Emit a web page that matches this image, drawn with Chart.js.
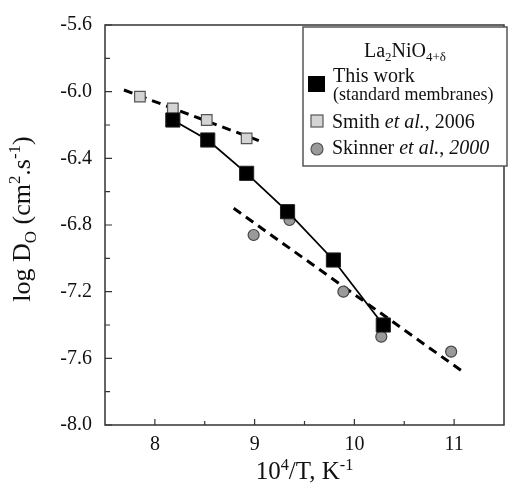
<!DOCTYPE html>
<html>
<head>
<meta charset="utf-8">
<script src="https://cdn.jsdelivr.net/npm/chart.js@4/dist/chart.umd.min.js"></script>
<style>
  body { margin: 0; background: #fff; }
  #wrap { width: 515px; height: 490px; position: relative; }
</style>
</head>
<body>
<div id="wrap"><canvas id="diffChart"></canvas></div>
<script>
// values (x = 10^4/T, y = log D_O)
const thisWorkX = [8.18, 8.53, 8.92, 9.33, 9.79, 10.29];
const thisWorkY = [-6.17, -6.29, -6.49, -6.72, -7.01, -7.40];
const smithX = [7.85, 8.18, 8.52, 8.92];
const smithY = [-6.03, -6.10, -6.17, -6.28];
const skinnerX = [8.99, 9.35, 9.89, 10.27, 10.97];
const skinnerY = [-6.86, -6.77, -7.20, -7.47, -7.56];
// dashed fit lines (end points)
const smithFitX = [7.69, 9.07];
const smithFitY = [-5.99, -6.30];
const skinnerFitX = [8.79, 11.11];
const skinnerFitY = [-6.70, -7.69];
// axis ticks
const xTicks = [8, 9, 10, 11];
const xMinor = [8.5, 9.5, 10.5];
const yTicks = [-8.0, -7.6, -7.2, -6.8, -6.4, -6.0, -5.6];
const yMinor = [-7.8, -7.4, -7.0, -6.6, -6.2, -5.8];

const serif = "'Liberation Serif', 'DejaVu Serif', serif";
Chart.defaults.font.family = serif;
Chart.defaults.color = '#111';

const pts = (xs, ys) => xs.map((x, i) => ({ x: x, y: ys[i] }));

// text with sub/superscripts and italics, drawn left to right
function drawRich(ctx, parts, x, y, size, align) {
  const fonts = parts.map(p => {
    const s = (p.sub || p.sup) ? size * 0.65 : size;
    return (p.italic ? 'italic ' : '') + s + 'px ' + serif;
  });
  const widths = parts.map((p, i) => { ctx.font = fonts[i]; return ctx.measureText(p.t).width; });
  let cx = align === 'center' ? x - widths.reduce((a, b) => a + b, 0) / 2 : x;
  parts.forEach((p, i) => {
    ctx.font = fonts[i];
    const dy = p.sub ? size * 0.22 : p.sup ? -size * 0.38 : 0;
    ctx.fillText(p.t, cx, y + dy);
    cx += widths[i];
  });
}

const decor = {
  id: 'decor',
  afterDraw(chart) {
    const { ctx, chartArea: a, scales: { x, y } } = chart;
    ctx.save();
    // frame
    ctx.strokeStyle = '#333';
    ctx.lineWidth = 1.5;
    ctx.strokeRect(a.left, a.top, a.right - a.left, a.bottom - a.top);
    // inward ticks
    ctx.lineWidth = 1.2;
    ctx.beginPath();
    xTicks.forEach(v => { const p = x.getPixelForValue(v); ctx.moveTo(p, a.bottom); ctx.lineTo(p, a.bottom - 6); });
    xMinor.forEach(v => { const p = x.getPixelForValue(v); ctx.moveTo(p, a.bottom); ctx.lineTo(p, a.bottom - 4); });
    yTicks.forEach(v => { const p = y.getPixelForValue(v); ctx.moveTo(a.left, p); ctx.lineTo(a.left + 7, p); });
    yMinor.forEach(v => { const p = y.getPixelForValue(v); ctx.moveTo(a.left, p); ctx.lineTo(a.left + 5, p); });
    ctx.stroke();

    ctx.fillStyle = '#111';
    ctx.textBaseline = 'alphabetic';
    // x title
    drawRich(ctx, [{ t: '10' }, { t: '4', sup: true }, { t: '/T, K' }, { t: '-1', sup: true }],
      (a.left + a.right) / 2, 479, 25, 'center');
    // y title
    ctx.save();
    ctx.translate(30, 219);
    ctx.rotate(-Math.PI / 2);
    drawRich(ctx, [{ t: 'log D' }, { t: 'O', sub: true }, { t: ' (cm' }, { t: '2', sup: true },
      { t: '.s' }, { t: '-1', sup: true }, { t: ')' }], 0, 0, 26, 'center');
    ctx.restore();

    // legend box
    ctx.strokeStyle = '#555';
    ctx.lineWidth = 1.5;
    ctx.fillStyle = '#fff';
    ctx.fillRect(303, 27, 204, 139);
    ctx.strokeRect(303, 27, 204, 139);
    ctx.fillStyle = '#111';
    drawRich(ctx, [{ t: 'La' }, { t: '2', sub: true }, { t: 'NiO' }, { t: '4+δ', sub: true }], 405, 57, 20, 'center');
    // markers
    ctx.fillStyle = '#000';
    ctx.fillRect(308, 76, 17, 16);
    ctx.fillStyle = '#d4d4d4';
    ctx.strokeStyle = '#555';
    ctx.lineWidth = 1.2;
    ctx.fillRect(311, 115, 12, 12);
    ctx.strokeRect(311, 115, 12, 12);
    ctx.fillStyle = '#9a9a9a';
    ctx.beginPath();
    ctx.arc(317, 149, 6, 0, Math.PI * 2);
    ctx.fill();
    ctx.stroke();
    ctx.fillStyle = '#111';
    drawRich(ctx, [{ t: 'This work' }], 333, 82, 20, 'left');
    drawRich(ctx, [{ t: '(standard membranes)' }], 333, 100, 18, 'left');
    drawRich(ctx, [{ t: 'Smith ' }, { t: 'et al.', italic: true }, { t: ', 2006' }], 332, 128, 20, 'left');
    drawRich(ctx, [{ t: 'Skinner ' }, { t: 'et al.', italic: true }, { t: ', ' }, { t: '2000', italic: true }], 332, 154, 20, 'left');
    ctx.restore();
  }
};

new Chart(document.getElementById('diffChart'), {
  type: 'scatter',
  data: {
    datasets: [
      {
        label: 'This work (standard membranes)',
        data: pts(thisWorkX, thisWorkY),
        showLine: true,
        borderColor: '#000',
        borderWidth: 1.8,
        pointStyle: 'rect',
        pointRadius: 10,
        pointBackgroundColor: '#000',
        pointBorderColor: '#222',
        pointBorderWidth: 1
      },
      {
        label: 'Smith et al., 2006',
        data: pts(smithX, smithY),
        pointStyle: 'rect',
        pointRadius: 7.5,
        pointBackgroundColor: '#d4d4d4',
        pointBorderColor: '#555',
        pointBorderWidth: 1.2
      },
      {
        label: 'Skinner et al., 2000',
        data: pts(skinnerX, skinnerY),
        pointStyle: 'circle',
        pointRadius: 5.5,
        pointBackgroundColor: '#9a9a9a',
        pointBorderColor: '#444',
        pointBorderWidth: 1.2
      },
      {
        label: 'Smith fit',
        data: pts(smithFitX, smithFitY),
        showLine: true,
        borderColor: '#000',
        borderWidth: 3,
        borderDash: [9, 6],
        pointRadius: 0
      },
      {
        label: 'Skinner fit',
        data: pts(skinnerFitX, skinnerFitY),
        showLine: true,
        borderColor: '#000',
        borderWidth: 3,
        borderDash: [9, 6],
        pointRadius: 0
      }
    ]
  },
  options: {
    responsive: true,
    maintainAspectRatio: false,
    animation: false,
    layout: { padding: { top: 17, right: 3, left: 0, bottom: 0 } },
    plugins: {
      legend: { display: false },
      tooltip: { enabled: false }
    },
    scales: {
      x: {
        type: 'linear',
        min: 7.5,
        max: 11.5,
        grid: { display: false, drawTicks: false },
        border: { display: false },
        ticks: { padding: 8, font: { size: 20 }, color: '#111' },
        afterBuildTicks: s => { s.ticks = xTicks.map(v => ({ value: v })); },
        afterFit: s => { s.height = 65; }
      },
      y: {
        type: 'linear',
        min: -8.0,
        max: -5.6,
        grid: { display: false, drawTicks: false },
        border: { display: false },
        ticks: { padding: 13, font: { size: 20 }, color: '#111', callback: v => v.toFixed(1) },
        afterBuildTicks: s => { s.ticks = yTicks.map(v => ({ value: v })); },
        afterFit: s => { s.width = 105; }
      }
    }
  },
  plugins: [decor]
});
</script>
</body>
</html>
